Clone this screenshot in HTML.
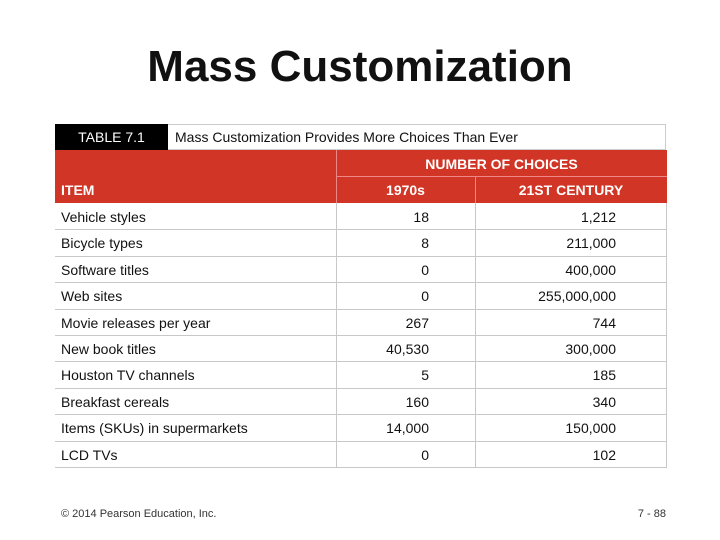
<!DOCTYPE html>
<html><head><meta charset="utf-8"><style>
body{margin:0;width:720px;height:540px;background:#fff;position:relative;font-family:"Liberation Sans",Arial,sans-serif;overflow:hidden}
.a{position:absolute}
.t{font-size:14px;color:#111;white-space:nowrap}
</style></head><body>
<div class="a" style="left:0;width:720px;top:42px;text-align:center;font-size:44px;font-weight:bold;color:#111">Mass Customization</div>
<div class="a" style="left:55px;top:124px;width:611px;height:26px;border:1px solid #ccc;box-sizing:border-box"></div>
<div class="a" style="left:55px;top:124px;width:113px;height:26px;background:#000;color:#fff;font-size:14px;line-height:26px;text-align:center">TABLE 7.1</div>
<div class="a t" style="left:175px;top:129px">Mass Customization Provides More Choices Than Ever</div>
<div class="a" style="left:55px;top:150px;width:612px;height:53px;background:#d13525"></div>
<div class="a" style="left:336px;top:150px;width:1px;height:53px;background:#e88"></div>
<div class="a" style="left:336px;top:176px;width:331px;height:1px;background:#e88"></div>
<div class="a" style="left:475px;top:177px;width:1px;height:26px;background:#e88"></div>
<div class="a t" style="left:336px;width:331px;top:156px;text-align:center;color:#fff;font-weight:bold">NUMBER OF CHOICES</div>
<div class="a t" style="left:61px;top:182px;color:#fff;font-weight:bold">ITEM</div>
<div class="a t" style="left:336px;width:139px;top:182px;text-align:center;color:#fff;font-weight:bold">1970s</div>
<div class="a t" style="left:475px;width:192px;top:182px;text-align:center;color:#fff;font-weight:bold">21ST CENTURY</div>
<div id="rows"></div>
<div class="a" style="left:61px;top:508px;font-size:11px;color:#333">© 2014 Pearson Education, Inc.</div>
<div class="a" style="right:54px;top:508px;font-size:11px;color:#333">7 - 88</div>
<script>
const items=["Vehicle styles","Bicycle types","Software titles","Web sites","Movie releases per year","New book titles","Houston TV channels","Breakfast cereals","Items (SKUs) in supermarkets","LCD TVs"];
const v1970=["18","8","0","0","267","40,530","5","160","14,000","0"];
const v21=["1,212","211,000","400,000","255,000,000","744","300,000","185","340","150,000","102"];
const c=document.getElementById('rows');
const top0=203,rh=26.4;
function add(html,style){const d=document.createElement('div');d.className='a';d.style.cssText=style;if(html!==null)d.textContent=html;c.appendChild(d);return d;}
for(let i=0;i<items.length;i++){
  const y=top0+i*rh;
  const l=add(null,`left:55px;top:${y+rh}px;width:612px;height:1px;background:#c8c8c8`);
  
  
  const a=add(items[i],`left:61px;top:${y+6}px;`);a.classList.add('t');
  
  
  const b=add(v1970[i],`right:${720-429}px;top:${y+6}px;`);b.classList.add('t');
  
  
  const d=add(v21[i],`right:${720-616}px;top:${y+6}px;`);d.classList.add('t');
  
  
}
const h=items.length*rh;
[336,475,666].forEach(x=>{const v=add(null,`left:${x}px;top:${top0}px;width:1px;height:${h}px;background:#c8c8c8`);

});
</script>
</body></html>
